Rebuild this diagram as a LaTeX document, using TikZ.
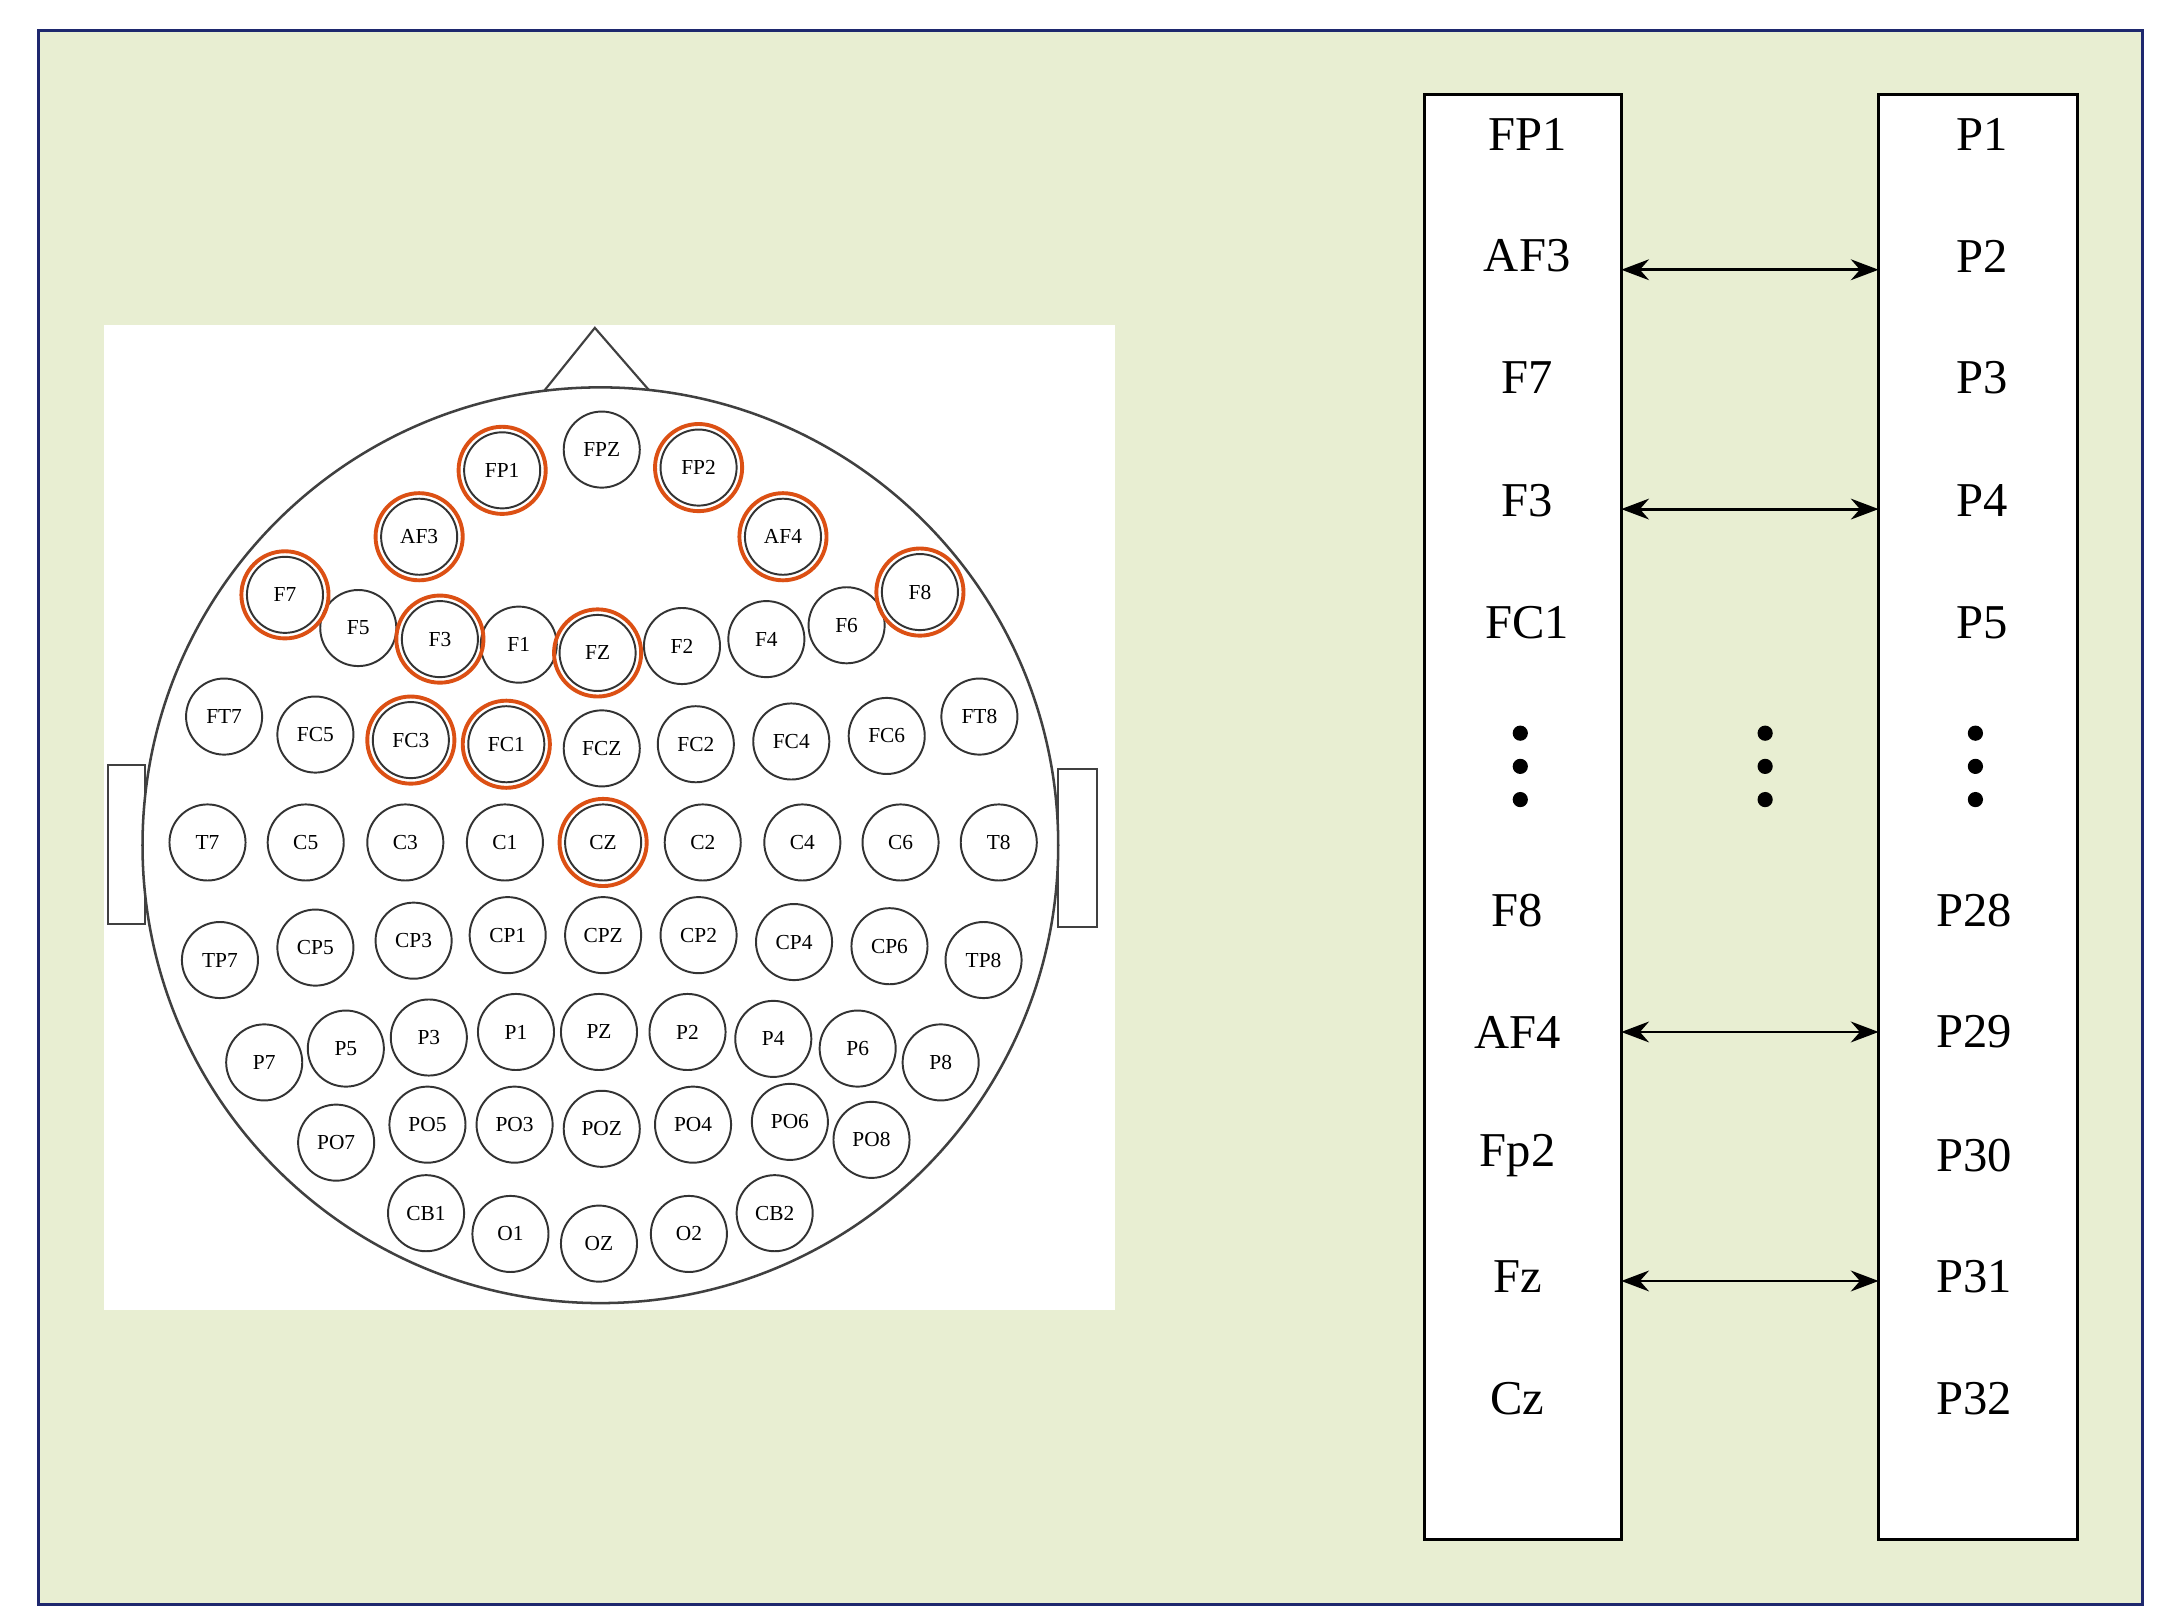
\documentclass[tikz,border=0pt]{standalone}
\usepackage{fontspec}
\setmainfont{Liberation Serif}
\usetikzlibrary{arrows.meta}
\definecolor{bgg}{RGB}{232,238,210}
\definecolor{navy}{RGB}{30,40,110}
\definecolor{ored}{RGB}{220,80,20}
\begin{document}
\begin{tikzpicture}[x=0.05cm,y=-0.05cm,
  el/.style={circle,draw=black!80,line width=2pt,minimum size=2.75cm,inner sep=0pt,font=\fontsize{22}{22}\selectfont},
  hl/.style={circle,draw=ored,line width=4pt,minimum size=3.15cm,inner sep=0pt},
  big/.style={font=\fontsize{50}{50}\selectfont,anchor=center},
  dot/.style={circle,fill=black,inner sep=0pt,minimum size=0.55cm},
  arr/.style={{Stealth[length=1cm,width=0.75cm]}-{Stealth[length=1cm,width=0.75cm]},line width=3pt}]
\useasboundingbox (0,0) rectangle (1560,1170);
\draw[navy,line width=3pt,fill=bgg] (28,22) rectangle (1549,1160);
\fill[white] (75,235) rectangle (806,947);
% head
\draw[black!75,line width=2.2pt] (78,553) rectangle (105,668);
\draw[black!75,line width=2.2pt] (765,556) rectangle (793,670);
\draw[black!75,line width=2.2pt] (393,283) -- (430,237) -- (470,283);
\draw[black!75,line width=2.6pt,fill=white] (434,611) circle (16.55cm);
\foreach \n/\x/\y in {FP1/363/340,FPZ/435/325,FP2/505/338,AF3/303/388,AF4/566/388,
F7/206/430,F5/259/454,F3/318/462,F1/375/466,FZ/432/472,F2/493/467,F4/554/462,F6/612/452,F8/665/428,
FT7/162/518,FC5/228/531,FC3/297/535,FC1/366/538,FCZ/435/541,FC2/503/538,FC4/572/536,FC6/641/532,FT8/708/518,
T7/150/609,C5/221/609,C3/293/609,C1/365/609,CZ/436/609,C2/508/609,C4/580/609,C6/651/609,T8/722/609,
TP7/159/694,CP5/228/685,CP3/299/680,CP1/367/676,CPZ/436/676,CP2/505/676,CP4/574/681,CP6/643/684,TP8/711/694,
P7/191/768,P5/250/758,P3/310/750,P1/373/746,PZ/433/746,P2/497/746,P4/559/751,P6/620/758,P8/680/768,
PO7/243/826,PO5/309/813,PO3/372/813,POZ/435/816,PO4/501/813,PO6/571/811,PO8/630/824,
CB1/308/877,O1/369/892,OZ/433/899,O2/498/892,CB2/560/877}
  \node[el] (e\n) at (\x,\y) {\n};
\foreach \n in {FP1,FP2,AF3,AF4,F7,F3,FZ,F8,FC3,FC1,CZ}
  \node[hl] (h\n) at (e\n) {};
% boxes
\draw[black,line width=3pt,fill=white] (1030,68) rectangle (1172,1113);
\draw[black,line width=3pt,fill=white] (1358,68) rectangle (1502,1113);
\foreach \t/\x/\y [count=\i] in {FP1/1104/97,AF3/1104/185,F7/1104/273,F3/1104/362,FC1/1104/450,
F8/1097/658,AF4/1097/746,Fp2/1097/835,Fz/1097/923,Cz/1097/1011}
  \node[big] (L\i) at (\x,\y) {\t};
\foreach \t/\x/\y [count=\i] in {P1/1433/97,P2/1433/185,P3/1433/273,P4/1433/362,P5/1433/450,
P28/1427/658,P29/1427/746,P30/1427/835,P31/1427/923,P32/1427/1011}
  \node[big] (R\i) at (\x,\y) {\t};
\foreach \x/\k in {1099/a,1276/b,1428/c}{
  \node[dot] (d\k1) at (\x,530) {};
  \node[dot] (d\k2) at (\x,554) {};
  \node[dot] (d\k3) at (\x,578) {};}
\coordinate (a1) at (1172,195); \coordinate (b1) at (1358,195);
\coordinate (a2) at (1172,368); \coordinate (b2) at (1358,368);
\coordinate (a3) at (1172,746); \coordinate (b3) at (1358,746);
\coordinate (a4) at (1172,926); \coordinate (b4) at (1358,926);
\foreach \i in {1,2,3,4} \draw[arr] (a\i) -- (b\i);
\end{tikzpicture}
\end{document}
